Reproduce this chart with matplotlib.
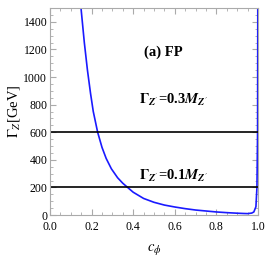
import numpy as np
import matplotlib
matplotlib.use("Agg")
import matplotlib.pyplot as plt
from matplotlib.ticker import MultipleLocator

plt.rcParams['font.family'] = ['Liberation Serif', 'DejaVu Serif']
plt.rcParams['mathtext.fontset'] = 'stix'

# curve
c_phi = [0.149, 0.165, 0.180, 0.195, 0.208, 0.229, 0.250, 0.270, 0.295, 0.325,
         0.350, 0.373, 0.40, 0.45, 0.50, 0.55, 0.60, 0.65, 0.70, 0.75,
         0.80, 0.85, 0.90, 0.93, 0.95, 0.97, 0.98, 0.99, 0.995, 0.998, 0.999]
gamma = [1500, 1250, 1050, 880, 750, 600, 490, 410, 335, 270,
         230, 200, 165, 120, 92, 72, 58, 46, 36, 29,
         22, 17, 13, 11, 10, 14, 22, 60, 200, 600, 1500]
width_lines = [600, 200]
width_labels = [r"$\mathbf{\Gamma}_{\mathbfit{Z}'}$=0.3$\mathbfit{M}_{\mathbfit{Z}'}$",
                r"$\mathbf{\Gamma}_{\mathbfit{Z}'}$=0.1$\mathbfit{M}_{\mathbfit{Z}'}$"]
label_y = [835, 283]

fig = plt.figure(figsize=(2.66, 2.66), dpi=100)
ax = fig.add_axes([50/266, 51/266, 208/266, 207/266])

ax.plot(c_phi, gamma, color='#1a1aff', lw=1.2)
for y, ly, lab in zip(width_lines, label_y, width_labels):
    ax.axhline(y, color='black', lw=1.2)
    ax.text(0.43, ly, lab, fontsize=10.5, fontweight='bold', va='center')

ax.text(0.45, 1180, "(a) FP", fontsize=10.5, fontweight='bold', va='center')

ax.set_xlim(0, 1)
ax.set_ylim(0, 1500)
ax.xaxis.set_major_locator(MultipleLocator(0.2))
ax.xaxis.set_minor_locator(MultipleLocator(0.05))
ax.yaxis.set_major_locator(MultipleLocator(200))
ax.yaxis.set_minor_locator(MultipleLocator(50))
ax.set_xticklabels([f"{v:.1f}" for v in ax.get_xticks()])
ax.tick_params(which='both', direction='in', top=True, right=True,
               color='#aaaaaa', labelsize=8.5, pad=2)
ax.tick_params(axis='x', pad=4)
ax.tick_params(which='major', length=4)
ax.tick_params(which='minor', length=2)
for s in ax.spines.values():
    s.set_color('#aaaaaa')
    s.set_linewidth(0.8)

ax.set_xlabel(r"$c_\phi$", fontsize=10.5, labelpad=7)
ax.set_ylabel(r"$\Gamma_Z$[GeV]", fontsize=10.5, labelpad=1)

fig.savefig("out.png", dpi=100)
